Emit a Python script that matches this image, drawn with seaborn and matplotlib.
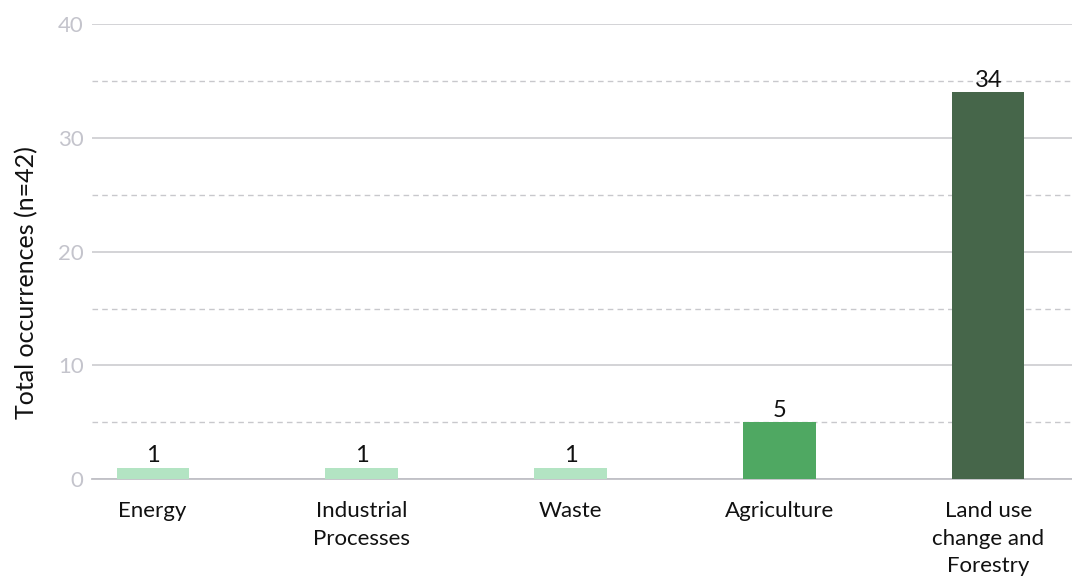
import matplotlib
matplotlib.use("Agg")
import matplotlib.pyplot as plt
from matplotlib.ticker import MultipleLocator
import seaborn as sns
import pandas as pd

categories = ["Energy", "Industrial\nProcesses", "Waste", "Agriculture",
              "Land use\nchange and\nForestry"]
occurrences = [1, 1, 1, 5, 34]
bar_colors = ["#b3e4c3", "#b3e4c3", "#b3e4c3", "#4fa862", "#46664a"]
y_label = "Total occurrences (n=42)"

sns.set_theme(style="white")
plt.rcParams["font.family"] = ["Lato", "DejaVu Sans"]

df = pd.DataFrame({"sector": categories, "count": occurrences})

fig = plt.figure(figsize=(10.72, 5.76), dpi=100)
ax = fig.add_axes([0.0858, 0.168, 0.9142, 0.79])

sns.barplot(data=df, x="sector", y="count", hue="sector",
            palette=dict(zip(categories, bar_colors)), legend=False,
            width=0.345, saturation=1, linewidth=0, ax=ax, zorder=3)

ax.set_ylim(0, 40)
ax.set_xlim(-0.29, 4.40)
ax.yaxis.set_major_locator(MultipleLocator(10))
ax.yaxis.set_minor_locator(MultipleLocator(5))
ax.grid(axis="y", which="major", color="#c8c8cc", linewidth=1.1, zorder=0)
ax.grid(axis="y", which="minor", color="#c8c8cc", linewidth=1.0,
        linestyle=(0, (4, 3)), zorder=0)
ax.set_axisbelow(True)

for s in ["top", "right", "left"]:
    ax.spines[s].set_visible(False)
ax.spines["bottom"].set_color("#c0c0c6")
ax.spines["bottom"].set_linewidth(1.3)

ax.tick_params(axis="y", which="both", length=0, pad=6,
               labelsize=16, labelcolor="#c4c4cc")
ax.tick_params(axis="x", length=0, pad=16, labelsize=16, labelcolor="#111111")
for lbl in ax.get_xticklabels():
    lbl.set_linespacing(1.45)
    lbl.set_verticalalignment("top")

ax.set_xlabel("")
ax.set_ylabel(y_label, fontsize=18, color="#111111")
ax.yaxis.set_label_coords(-0.055, 0.433)

for container in ax.containers:
    ax.bar_label(container, fmt="%d", padding=1, fontsize=17, color="#111111")

fig.savefig("out.png", dpi=100)
